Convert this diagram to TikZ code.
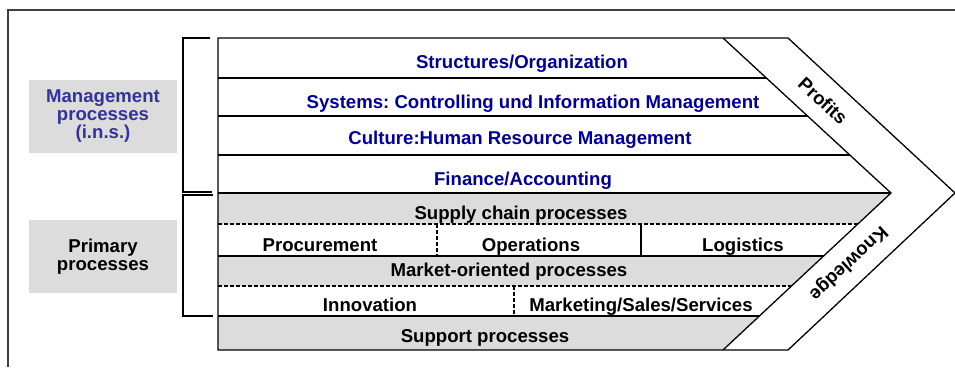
\documentclass[tikz,border=0pt]{standalone}
\usepackage{fontspec}
\setmainfont{Liberation Sans}
\usepackage{tikz}
\usetikzlibrary{positioning}
\definecolor{Marino}{RGB}{0, 0, 153}
\definecolor{Lila}{RGB}{51, 51, 153}
\definecolor{Gris}{RGB}{220, 220, 220}
\definecolor{Marco}{RGB}{64, 64, 64}

\begin{document}
\frenchspacing
\begin{tikzpicture}[
        x=1pt, y=-1pt,
        txt/.style={
            inner sep=0pt,
            anchor=base,
            font=\fontsize{18.6}{18}\selectfont\bfseries
        },
        mgmt/.style={
            txt,
            text=Marino
        },
        sidebox/.style={
            rectangle,
            fill=Gris,
            minimum width=148pt,
            minimum height=73pt,
            align=center,
            font=\fontsize{18.6}{18}\selectfont\bfseries
        },
        sep/.style={
            line width=1.3pt
        },
        dsep/.style={
            line width=1.4pt,
            dash pattern=on 3.5pt off 2.5pt
        },
        bracket/.style={
            line width=2pt
        }
    ]
        \useasboundingbox (0,0) rectangle (955,367);

        % Frame
        \draw[Marco, line width=2pt] (955,10) -- (8,10) -- (8,367);

        % Rows inside the arrow
        \begin{scope}
            \clip (218,38) -- (723,38) -- (891,193) -- (723,350) -- (218,350) -- cycle;
            \fill[Gris] (218,193) rectangle (900,224);
            \fill[Gris] (218,256) rectangle (900,286);
            \fill[Gris] (218,316) rectangle (900,350);
            \foreach \y in {78,116,155,193,256,316}
                \draw[sep] (218,\y) -- (900,\y);
            \foreach \y in {224,286}
                \draw[dsep] (218,\y) -- (900,\y);
        \end{scope}

        % Cell dividers
        \draw[dsep] (437,224) -- (437,256);
        \draw[sep] (641,224) -- (641,256);
        \draw[dsep] (514,286) -- (514,316);

        % Arrow outline and margin band
        \draw[sep] (218,38) -- (788,38) -- (955,193) -- (788,350) -- (218,350) -- cycle;
        \draw[sep] (723,38) -- (891,193) -- (723,350);

        % Management processes
        \node[mgmt] (structures) at (522,68) {Structures/Organization};
        \node[mgmt] (systems) at (533,108) {Systems: Controlling und Information Management};
        \node[mgmt] (culture) at (520,144) {Culture:Human Resource Management};
        \node[mgmt] (finance) at (523,185) {Finance/Accounting};

        % Primary processes
        \node[txt] (supply) at (521,219) {Supply chain processes};
        \node[txt] (procurement) at (320,251) {Procurement};
        \node[txt] (operations) at (531,251) {Operations};
        \node[txt] (logistics) at (743,251) {Logistics};
        \node[txt] (market) at (509,276) {Market-oriented processes};
        \node[txt] (innovation) at (370,311) {Innovation};
        \node[txt] (marketing) at (641,311) {Marketing/Sales/Services};
        \node[txt] (support) at (485,342) {Support processes};

        % Margin
        \node[txt, anchor=center, rotate=-42.7] (profits) at (823,101) {Profits};
        \node[txt, anchor=center, rotate=-137] (knowledge) at (848,263) {Knowledge};

        % Side labels and brackets
        \node[sidebox, text=Lila] (mgmtlabel) at (103,116.5) {Management\\processes\\(i.n.s.)};
        \node[sidebox] (primarylabel) at (103,256.5) {Primary\\processes};
        \draw[bracket] (210,38) -- (183,38) -- (183,192) -- (212,192);
        \draw[bracket] (213,195) -- (183,195) -- (183,316) -- (213,316);

    \end{tikzpicture}
\end{document}
